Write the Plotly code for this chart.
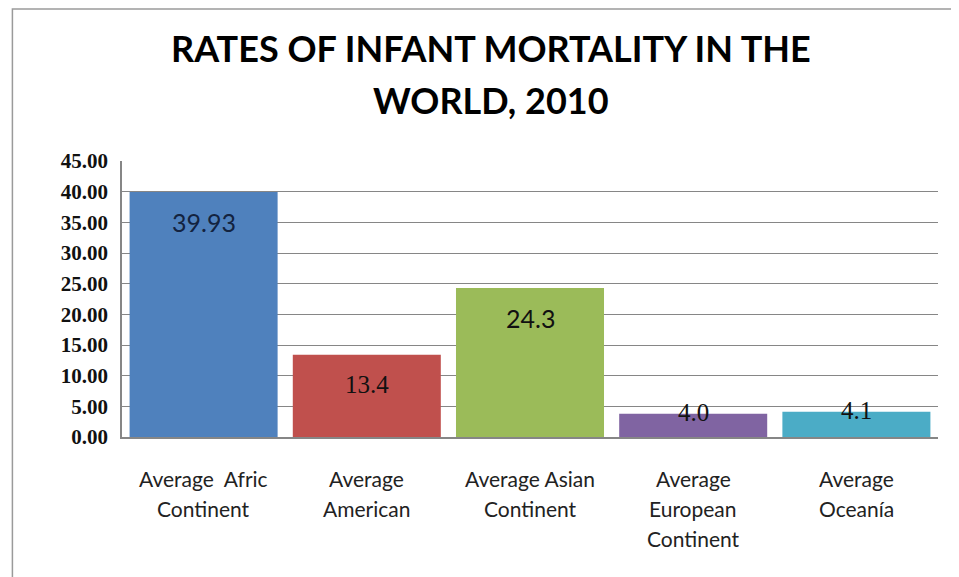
import plotly.graph_objects as go

# data
categories = ["Africa", "America", "Asia", "Europe", "Oceania"]
tick_lines = [
    ["Average  Afric", "Continent"],
    ["Average", "American"],
    ["Average Asian", "Continent"],
    ["Average", "European", "Continent"],
    ["Average", "Oceanía"],
]
values = [39.93, 13.4, 24.3, 3.8, 4.1]
value_labels = ["39.93", "13.4", "24.3", "4.0", "4.1"]
colors = ["#4F81BD", "#C0504D", "#9BBB59", "#8064A2", "#4BACC6"]
y_ticks = [0, 5, 10, 15, 20, 25, 30, 35, 40, 45]

# label fonts as they appear in the original (mixed)
label_fonts = ["Lato", "Liberation Serif", "Lato", "Liberation Serif", "Liberation Serif"]

fig = go.Figure(go.Bar(x=categories, y=values, marker_color=colors,
                       marker_line_width=0, hoverinfo="skip"))

# value labels, Excel "inside end" style
for cat, v, lab, col, fnt in zip(categories, values, value_labels, colors, label_fonts):
    fig.add_annotation(x=cat, y=v, text=lab, showarrow=False,
                       yshift=-30 if v > 10 else 1,
                       font=dict(family=fnt, size=25,
                                 color="#13233f" if col == "#4F81BD" else "#111111"))

# category labels, one annotation per line to get Excel's line spacing
for cat, lines in zip(categories, tick_lines):
    for i, line in enumerate(lines):
        fig.add_annotation(x=cat, y=0, text=line, showarrow=False,
                           yshift=-41 - 30 * i,
                           font=dict(family="Lato", size=21, color="#222222"))

# title, two lines
title_lines = ["RATES OF INFANT MORTALITY IN THE", "WORLD, 2010"]
for ty, line in zip([1.408, 1.221], title_lines):
    fig.add_annotation(x=0.452, y=ty, xref="paper", yref="paper", text=f"<b>{line}</b>",
                       showarrow=False, xanchor="center", yanchor="middle",
                       font=dict(family="Lato", size=36, color="#000000"))

# outer chart frame
fig.add_shape(type="rect", xref="paper", yref="paper",
              x0=-0.1343, x1=1.06, y0=-0.55, y1=1.551,
              line=dict(color="#9a9a9a", width=1.5))

fig.update_layout(
    width=959, height=577,
    margin=dict(l=114, r=29, t=153, b=148),
    paper_bgcolor="white", plot_bgcolor="white",
    bargap=0.093,
    showlegend=False,
)
fig.update_xaxes(showticklabels=False, showline=True, linecolor="#868686",
                 linewidth=1.5, showgrid=False)
fig.update_yaxes(range=[0, 45], tickvals=y_ticks,
                 ticktext=[f"<b>{t:.2f}</b>" for t in y_ticks],
                 showgrid=True, gridcolor="#868686", gridwidth=1,
                 showline=True, linecolor="#868686", linewidth=1.5,
                 ticks="", ticklabelstandoff=8, zeroline=False,
                 tickfont=dict(family="Liberation Serif", size=21, color="#111111"))

fig.write_html("out.html")
